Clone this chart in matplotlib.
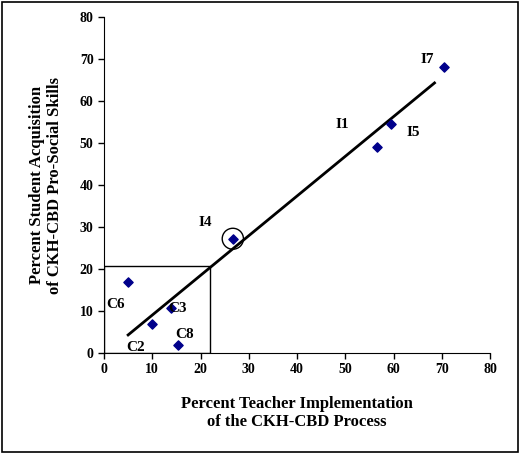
import matplotlib
matplotlib.use("Agg")
import matplotlib.pyplot as plt
from matplotlib.patches import Rectangle, Ellipse

labels = ["C6", "C2", "C3", "C8", "I4", "I1", "I5", "I7"]
x = [5.0, 10.0, 13.8, 15.3, 26.7, 56.5, 59.5, 70.5]
y = [16.8, 6.9, 10.6, 2.0, 27.2, 49.0, 54.5, 68.0]
fit_x = [5.0, 68.5]
fit_y = [4.3, 64.3]
label_pos = {"C6": (-9, -16), "C2": (-12, -17), "C3": (5, 0), "C8": (5, 7),
             "I4": (-20, 12), "I1": (-25, 16), "I5": (16, -6), "I7": (-12, 6)}

plt.rcParams['font.family'] = ['Liberation Serif']
plt.rcParams['font.weight'] = 'bold'
fig = plt.figure(figsize=(5.2, 4.54), dpi=100)
ax = fig.add_axes([104/520, 1-353/454, 386/520, 336/454])
ax.plot(fit_x, fit_y, color='black', lw=2)
ax.scatter(x, y, marker='D', s=22, color='#00008B', zorder=3)
for l, xi, yi in zip(labels, x, y):
    dx, dy = label_pos[l]
    ax.annotate(l, (xi, yi), xytext=(dx, dy), textcoords='offset points',
                fontsize=11, fontweight='bold', ha='center', va='center')
ax.add_patch(Rectangle((0, 0), 21.9, 20.8, fill=False, lw=1, color='black'))
ax.add_patch(Ellipse((26.7, 27.2), 4.4, 5.0, fill=False, lw=1, color='black'))
ax.set_xlim(0, 80); ax.set_ylim(0, 80)
ax.set_xticks(range(0, 81, 10)); ax.set_yticks(range(0, 81, 10))
for s in ['top', 'right']:
    ax.spines[s].set_visible(False)
ax.tick_params(direction='out', labelsize=10, width=1, length=4)
for t in ax.get_xticklabels() + ax.get_yticklabels():
    t.set_fontweight('bold')
ax.set_xlabel("Percent Teacher Implementation\nof the CKH-CBD Process", fontsize=12, fontweight='bold', labelpad=14)
ax.set_ylabel("Percent Student Acquisition\nof CKH-CBD Pro-Social Skills", fontsize=12, fontweight='bold', labelpad=12)
fig.patches.append(Rectangle((0.004, 0.004), 0.992, 0.992, transform=fig.transFigure, fill=False, lw=1.2, color='black'))
fig.savefig("out.png", dpi=100)
